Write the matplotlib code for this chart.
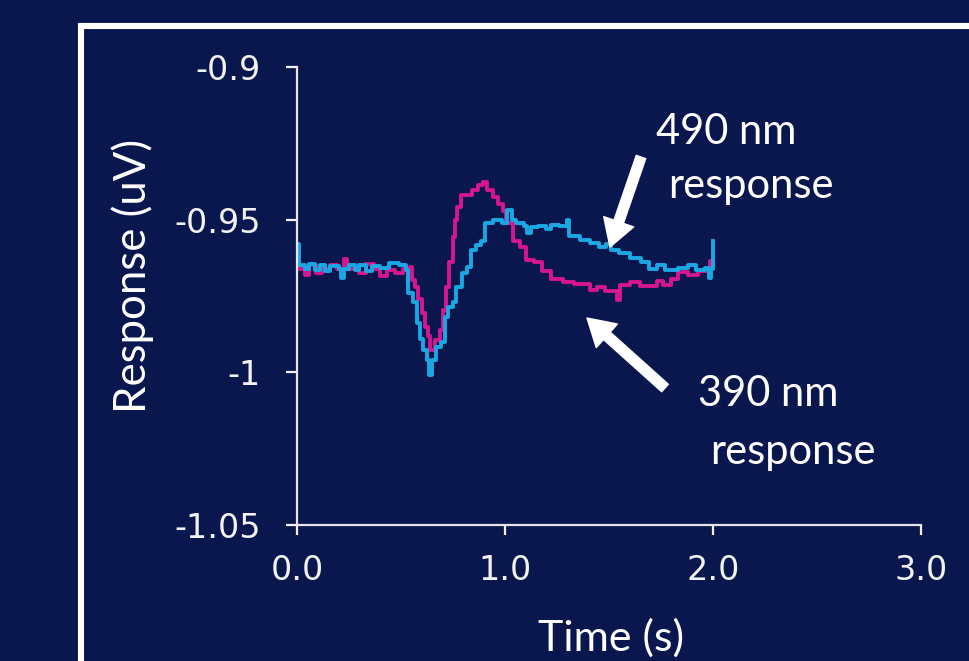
from matplotlib import pyplot as plt
from matplotlib.patches import Rectangle

# 390 nm response (magenta), stepped trace
t_390 = [0.000, 0.008, 0.040, 0.060, 0.090, 0.120, 0.160, 0.190, 0.225, 0.240,
         0.300, 0.330, 0.370, 0.400, 0.435, 0.470, 0.510, 0.543, 0.553, 0.567,
         0.582, 0.601, 0.615, 0.630, 0.639, 0.665, 0.686, 0.700, 0.718, 0.733,
         0.748, 0.758, 0.768, 0.790, 0.840, 0.868, 0.892, 0.915, 0.940, 0.965,
         0.988, 1.005, 1.040, 1.070, 1.100, 1.140, 1.180, 1.220, 1.280, 1.330,
         1.410, 1.440, 1.480, 1.540, 1.552, 1.600, 1.650, 1.730, 1.760, 1.800,
         1.830, 1.880, 1.930, 1.985, 2.000]
v_390 = [-0.9600, -0.9660, -0.9680, -0.9650, -0.9675, -0.9660, -0.9648, -0.9662, -0.9630, -0.9660,
         -0.9675, -0.9645, -0.9660, -0.9685, -0.9665, -0.9675, -0.9660, -0.9655, -0.9697, -0.9720,
         -0.9760, -0.9805, -0.9850, -0.9880, -0.9927, -0.9894, -0.9860, -0.9796, -0.9720, -0.9640,
         -0.9557, -0.9500, -0.9458, -0.9419, -0.9403, -0.9386, -0.9377, -0.9403, -0.9426, -0.9450,
         -0.9470, -0.9510, -0.9570, -0.9590, -0.9632, -0.9638, -0.9668, -0.9695, -0.9705, -0.9712,
         -0.9730, -0.9722, -0.9733, -0.9763, -0.9715, -0.9705, -0.9718, -0.9700, -0.9715, -0.9695,
         -0.9670, -0.9680, -0.9668, -0.9635, -0.9635]

# 490 nm response (cyan)
t_490 = [0.000, 0.008, 0.040, 0.060, 0.085, 0.110, 0.135, 0.160, 0.200, 0.210,
         0.225, 0.250, 0.280, 0.300, 0.330, 0.360, 0.400, 0.440, 0.490, 0.525,
         0.535, 0.558, 0.577, 0.591, 0.606, 0.625, 0.635, 0.650, 0.668, 0.690,
         0.710, 0.726, 0.748, 0.765, 0.795, 0.815, 0.838, 0.862, 0.885, 0.902,
         0.940, 0.985, 1.010, 1.035, 1.055, 1.090, 1.105, 1.125, 1.160, 1.195,
         1.220, 1.260, 1.300, 1.310, 1.360, 1.410, 1.450, 1.485, 1.510, 1.550,
         1.600, 1.655, 1.690, 1.730, 1.770, 1.830, 1.880, 1.920, 1.960, 1.980,
         1.990, 1.998, 2.000]
v_490 = [-0.9580, -0.9650, -0.9660, -0.9645, -0.9665, -0.9650, -0.9668, -0.9652, -0.9660, -0.9690,
         -0.9660, -0.9648, -0.9665, -0.9650, -0.9668, -0.9652, -0.9658, -0.9642, -0.9650, -0.9665,
         -0.9740, -0.9770, -0.9840, -0.9890, -0.9927, -0.9960, -1.0010, -0.9960, -0.9917, -0.9900,
         -0.9820, -0.9786, -0.9770, -0.9720, -0.9675, -0.9655, -0.9600, -0.9583, -0.9570, -0.9510,
         -0.9500, -0.9510, -0.9468, -0.9500, -0.9510, -0.9520, -0.9545, -0.9525, -0.9520, -0.9532,
         -0.9518, -0.9522, -0.9500, -0.9555, -0.9568, -0.9575, -0.9590, -0.9580, -0.9600, -0.9610,
         -0.9625, -0.9640, -0.9662, -0.9650, -0.9665, -0.9658, -0.9650, -0.9665, -0.9658, -0.9690,
         -0.9662, -0.9570, -0.9570]

x_ticks = [0.0, 1.0, 2.0, 3.0]
x_tick_labels = ["0.0", "1.0", "2.0", "3.0"]
y_ticks = [-1.05, -1.0, -0.95, -0.9]
y_tick_labels = ["-1.05", "-1", "-0.95", "-0.9"]

bg = "#0a174f"
fg = "#f2f2f2"
label_font = "Lato"

fig = plt.figure(figsize=(9.69, 6.61), dpi=100, facecolor=bg)

# white frame of the slide panel (runs off the right and bottom edges)
fig.patches.append(Rectangle((80.5 / 969, -0.1), 1.2, 635.5 / 661 + 0.1,
                             transform=fig.transFigure, fill=False,
                             edgecolor="white", linewidth=4.4))

ax = fig.add_axes([297 / 969, 1 - 525 / 661, 624 / 969, 458 / 661])
ax.set_facecolor(bg)

ax.plot(t_390, v_390, drawstyle="steps-post", color="#d6168f", linewidth=2.8)
ax.plot(t_490, v_490, drawstyle="steps-post", color="#19a8e4", linewidth=2.8)

ax.set_xlim(0, 3)
ax.set_ylim(-1.05, -0.9)
ax.set_xticks(x_ticks)
ax.set_xticklabels(x_tick_labels, fontfamily="DejaVu Sans", color=fg)
ax.set_yticks(y_ticks)
ax.set_yticklabels(y_tick_labels, fontfamily="DejaVu Sans", color=fg)

for side in ["top", "right"]:
    ax.spines[side].set_visible(False)
for side in ["left", "bottom"]:
    ax.spines[side].set_color("#e6e6e6")
    ax.spines[side].set_linewidth(1.6)

ax.tick_params(axis="y", colors=fg, length=8, width=1.6, pad=18, labelsize=24)
ax.tick_params(axis="x", colors=fg, length=7, width=1.6, pad=14, labelsize=24)

fig.text(133 / 969, 1 - 276 / 661, "Response (uV)", fontsize=31.5, color="white",
         family=label_font, rotation=90, ha="center", va="center")
fig.text(611 / 969, 1 - 638 / 661, "Time (s)", fontsize=31, color="white",
         family=label_font, ha="center", va="center")

# annotations with arrows
fig.text(726 / 969, 1 - 132 / 661, "490 nm", fontsize=30, color="white",
         family=label_font, ha="center", va="center")
fig.text(751 / 969, 1 - 186 / 661, "response", fontsize=30, color="white",
         family=label_font, ha="center", va="center")
fig.text(768 / 969, 1 - 394 / 661, "390 nm", fontsize=30, color="white",
         family=label_font, ha="center", va="center")
fig.text(793 / 969, 1 - 452 / 661, "response", fontsize=30, color="white",
         family=label_font, ha="center", va="center")

arrow_style = dict(arrowstyle="simple,head_width=1.9,head_length=1.6,tail_width=0.6",
                   color="white", shrinkA=0, shrinkB=0, mutation_scale=12)
ax.annotate("", xy=(610, 661 - 247), xycoords="figure pixels",
            xytext=(641, 661 - 157), textcoords="figure pixels", arrowprops=arrow_style)
ax.annotate("", xy=(587, 661 - 318), xycoords="figure pixels",
            xytext=(665, 661 - 388), textcoords="figure pixels", arrowprops=arrow_style)

fig.savefig("out.png", dpi=100, facecolor=bg)
